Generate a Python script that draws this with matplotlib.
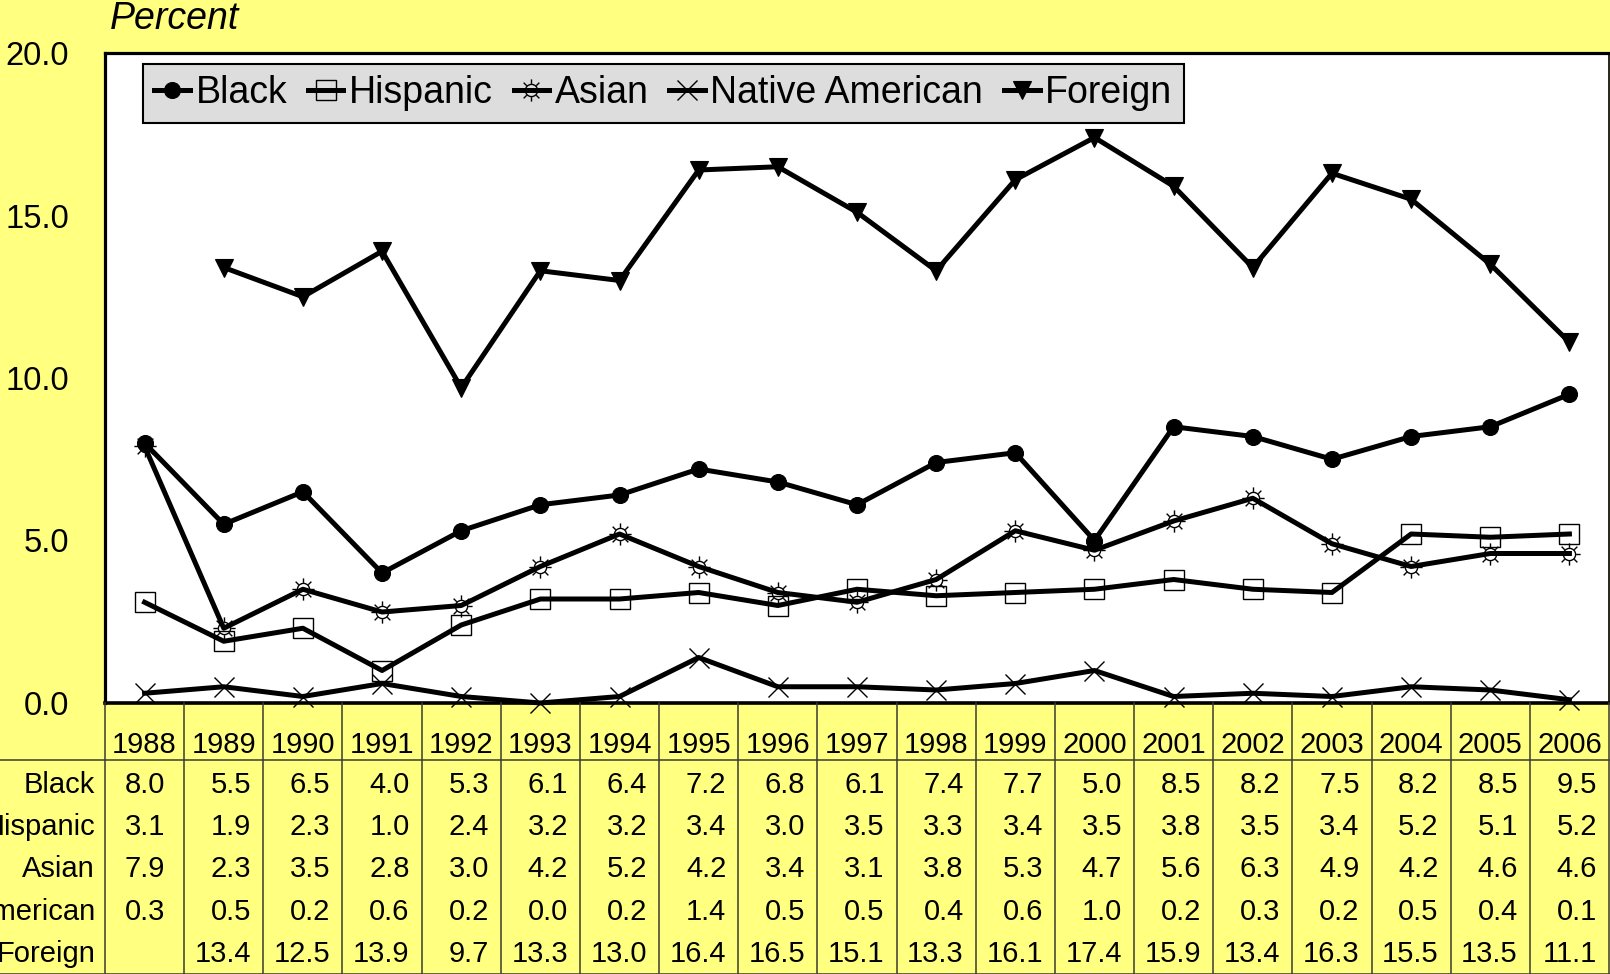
import matplotlib.pyplot as plt
import numpy as np
from matplotlib.path import Path

plt.rcParams['font.family'] = ['Liberation Sans', 'DejaVu Sans']

# dati
anni = ['1988', '1989', '1990', '1991', '1992', '1993', '1994', '1995', '1996', '1997',
        '1998', '1999', '2000', '2001', '2002', '2003', '2004', '2005', '2006']
black = [8.0, 5.5, 6.5, 4.0, 5.3, 6.1, 6.4, 7.2, 6.8, 6.1, 7.4, 7.7, 5.0, 8.5, 8.2, 7.5, 8.2, 8.5, 9.5]
hispanic = [3.1, 1.9, 2.3, 1.0, 2.4, 3.2, 3.2, 3.4, 3.0, 3.5, 3.3, 3.4, 3.5, 3.8, 3.5, 3.4, 5.2, 5.1, 5.2]
asian = [7.9, 2.3, 3.5, 2.8, 3.0, 4.2, 5.2, 4.2, 3.4, 3.1, 3.8, 5.3, 4.7, 5.6, 6.3, 4.9, 4.2, 4.6, 4.6]
native = [0.3, 0.5, 0.2, 0.6, 0.2, 0.0, 0.2, 1.4, 0.5, 0.5, 0.4, 0.6, 1.0, 0.2, 0.3, 0.2, 0.5, 0.4, 0.1]
foreign = [np.nan, 13.4, 12.5, 13.9, 9.7, 13.3, 13.0, 16.4, 16.5, 15.1, 13.3, 16.1, 17.4, 15.9, 13.4, 16.3, 15.5, 13.5, 11.1]

nomi = ['Black', 'Hispanic', 'Asian', 'Native American', 'Foreign']
serie = [black, hispanic, asian, native, foreign]

giallo = '#ffff80'
W, H = 1610, 974
fig = plt.figure(figsize=(W / 100, H / 100), dpi=100, facecolor=giallo)

# area del grafico in pixel
x0, x1 = 105, 1609
y_top, y_bot = 53, 703
ax = fig.add_axes([x0 / W, (H - y_bot) / H, (x1 - x0) / W, (y_bot - y_top) / H])
ax.set_facecolor('white')

# marker "sole" per Asian: cerchio con 8 raggi
raggi = []
for a in np.arange(8) * np.pi / 4:
    raggi.append(Path([(0.62 * np.cos(a), 0.62 * np.sin(a)), (np.cos(a), np.sin(a))],
                      [Path.MOVETO, Path.LINETO]))
sole = Path.make_compound_path(Path.circle(radius=0.55), *raggi)

stili = [
    dict(marker='o', ms=11.5, mfc='black', mec='black', mew=0.8),
    dict(marker='s', ms=14, mfc='none', mec='black', mew=1.0),
    dict(marker=sole, ms=16, mfc='none', mec='black', mew=1.0),
    dict(marker='x', ms=14, mfc='none', mec='black', mew=1.0),
    dict(marker='v', ms=13, mfc='black', mec='black', mew=0.8),
]

x = np.arange(len(anni))
for nome, vals, st in zip(nomi, serie, stili):
    ax.plot(x, vals, color='black', lw=3.6, label=nome, clip_on=False, **st)

ax.set_xlim(-0.5, len(anni) - 0.5)
ax.set_ylim(0, 20)
ax.set_yticks([0, 5, 10, 15, 20])
ax.set_yticklabels(['%.1f' % v for v in [0, 5, 10, 15, 20]], fontsize=23.5)
ax.tick_params(axis='y', length=0, pad=26)
ax.set_xticks([])

for lato, lw in [('left', 2.3), ('top', 2.3), ('bottom', 2.6), ('right', 1.2)]:
    ax.spines[lato].set_linewidth(lw)
    ax.spines[lato].set_color('black')
    ax.spines[lato].set_zorder(5)

leg = ax.legend(loc='upper left', bbox_to_anchor=((143 - x0) / (x1 - x0), (y_bot - 64) / (y_bot - y_top)),
                borderaxespad=0, ncol=5, fontsize=27, handlelength=0.95, handletextpad=0.15,
                columnspacing=0.55, borderpad=0.3, fancybox=False, framealpha=1,
                facecolor='#dddddd', edgecolor='black')
leg.get_frame().set_linewidth(1.5)

fig.text(110 / W, 1 - 19 / H, 'Percent', fontsize=27, style='italic', va='center', ha='left')

# ========== tabella dei dati ==========
col_w = (x1 - x0) / len(anni)
tx = fig.add_axes([0, 0, x1 / W, (H - y_bot) / H])
tx.set_xlim(-0.5 - x0 / col_w, len(anni) - 0.5)
tx.set_ylim(H, y_bot)
tx.axis('off')

colore_linee = '#3a3a30'
for k in range(len(anni) + 1):
    tx.plot([k - 0.5, k - 0.5], [y_bot, H], color=colore_linee, lw=1.1, clip_on=False)
tx.plot([-0.5 - x0 / col_w, len(anni) - 0.5], [760, 760], color=colore_linee, lw=1.1, clip_on=False)
tx.plot([-0.5 - x0 / col_w, len(anni) - 0.5], [H - 0.5, H - 0.5], color=colore_linee, lw=1.1, clip_on=False)

for i, anno in enumerate(anni):
    tx.text(i, 745, anno, fontsize=21, ha='center', va='center')

righe_y = [785, 827, 869, 912, 954]
for nome, vals, yy in zip(nomi, serie, righe_y):
    tx.text(-0.5 - 10 / col_w, yy, nome, fontsize=21, ha='right', va='center')
    for i, v in enumerate(vals):
        if np.isnan(v):
            continue
        if i == 0:
            tx.text(i, yy, '%.1f' % v, fontsize=21, ha='center', va='center')
        else:
            tx.text(i + 0.5 - 12 / col_w, yy, '%.1f' % v, fontsize=21, ha='right', va='center')

fig.savefig('out.png', dpi=100, facecolor=giallo)
